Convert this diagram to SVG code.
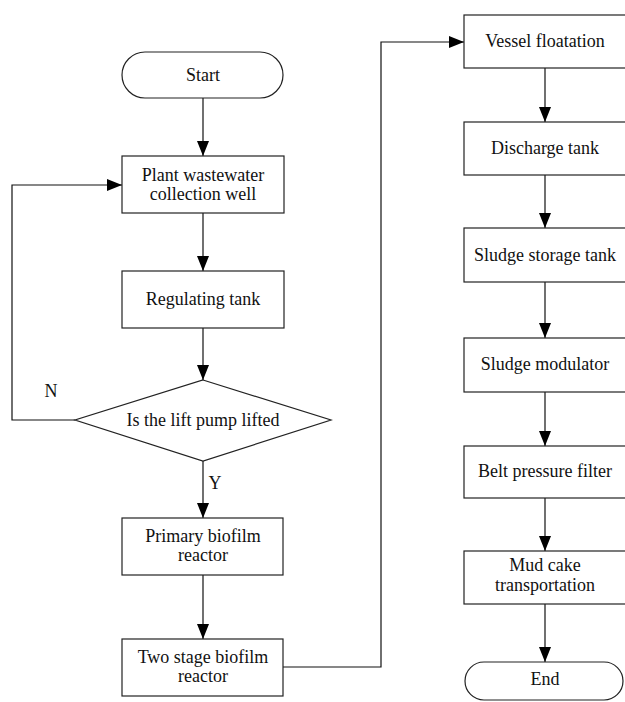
<svg xmlns="http://www.w3.org/2000/svg" width="625" height="702" viewBox="0 0 625 702">
<style>
.shape{fill:#fff;stroke:#222;stroke-width:1.2}
.conn{fill:none;stroke:#111;stroke-width:1.2}
text{font-family:"Liberation Serif","Times New Roman",serif;font-size:18px;fill:#111;text-anchor:middle}
</style>
<defs>
<marker id="arr" markerUnits="userSpaceOnUse" markerWidth="15" markerHeight="12" refX="15" refY="6" orient="auto">
<path d="M0,0 L15,6 L0,12 Z" fill="#000"/>
</marker>
</defs>
<rect width="625" height="702" fill="#fff"/>
<g id="connectors">
<line class="conn" x1="203" y1="98" x2="203" y2="156" marker-end="url(#arr)"/>
<line class="conn" x1="203" y1="213" x2="203" y2="271" marker-end="url(#arr)"/>
<line class="conn" x1="203" y1="328" x2="203" y2="380" marker-end="url(#arr)"/>
<line class="conn" x1="203" y1="461" x2="203" y2="518" marker-end="url(#arr)"/>
<line class="conn" x1="203" y1="575" x2="203" y2="639" marker-end="url(#arr)"/>
<polyline class="conn" points="75,420 12,420 12,185 122,185" marker-end="url(#arr)"/>
<polyline class="conn" points="283,667 381,667 381,42 464,42" marker-end="url(#arr)"/>
<line class="conn" x1="545" y1="68" x2="545" y2="122" marker-end="url(#arr)"/>
<line class="conn" x1="545" y1="175" x2="545" y2="228" marker-end="url(#arr)"/>
<line class="conn" x1="545" y1="282" x2="545" y2="338" marker-end="url(#arr)"/>
<line class="conn" x1="545" y1="392" x2="545" y2="446" marker-end="url(#arr)"/>
<line class="conn" x1="545" y1="498" x2="545" y2="551" marker-end="url(#arr)"/>
<line class="conn" x1="545" y1="604" x2="545" y2="662" marker-end="url(#arr)"/>
<text x="51" y="397">N</text>
<text x="215" y="489">Y</text>
</g>
<g id="start">
<rect class="shape" x="122" y="52" width="161" height="46" rx="23" ry="23"/>
<text x="203" y="81">Start</text>
</g>
<g id="collection-well">
<rect class="shape" x="122" y="156" width="162" height="57"/>
<text x="203" y="181">Plant wastewater</text>
<text x="203" y="200">collection well</text>
</g>
<g id="regulating-tank">
<rect class="shape" x="122" y="271" width="162" height="57"/>
<text x="203" y="305">Regulating tank</text>
</g>
<g id="lift-pump">
<polygon class="shape" points="203,380 331,420 203,461 75,420"/>
<text x="203" y="426">Is the lift pump lifted</text>
</g>
<g id="primary-reactor">
<rect class="shape" x="122" y="518" width="161" height="57"/>
<text x="203" y="542">Primary biofilm</text>
<text x="203" y="561">reactor</text>
</g>
<g id="two-stage-reactor">
<rect class="shape" x="122" y="639" width="161" height="57"/>
<text x="203" y="663">Two stage biofilm</text>
<text x="203" y="682">reactor</text>
</g>
<g id="vessel-floatation">
<rect class="shape" x="464" y="15" width="163" height="53"/>
<text x="545" y="47">Vessel floatation</text>
</g>
<g id="discharge-tank">
<rect class="shape" x="464" y="122" width="163" height="53"/>
<text x="545" y="154">Discharge tank</text>
</g>
<g id="sludge-storage">
<rect class="shape" x="464" y="228" width="163" height="54"/>
<text x="545" y="261">Sludge storage tank</text>
</g>
<g id="sludge-modulator">
<rect class="shape" x="464" y="338" width="163" height="54"/>
<text x="545" y="370">Sludge modulator</text>
</g>
<g id="belt-filter">
<rect class="shape" x="464" y="446" width="163" height="52"/>
<text x="545" y="477">Belt pressure filter</text>
</g>
<g id="mud-cake">
<rect class="shape" x="464" y="551" width="163" height="53"/>
<text x="545" y="571">Mud cake</text>
<text x="545" y="591">transportation</text>
</g>
<g id="end">
<rect class="shape" x="465" y="662" width="158" height="38" rx="19" ry="19"/>
<text x="545" y="685">End</text>
</g>
</svg>
